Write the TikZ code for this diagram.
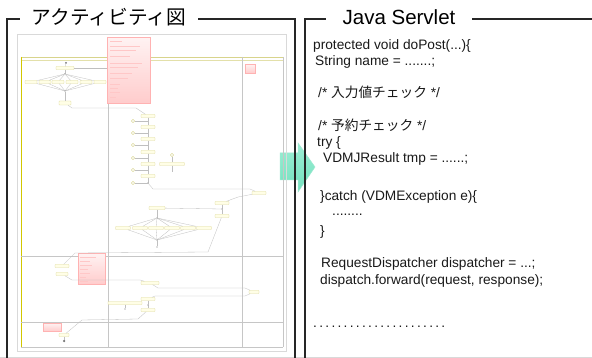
\documentclass[tikz,border=0pt]{standalone}
\usepackage{fontspec}
\setmainfont{Liberation Sans}
\newfontfamily\jfont{Noto Sans CJK JP}
\definecolor{mint}{HTML}{74E0BE}
\definecolor{mintlight}{HTML}{9CEED4}

\begin{document}
\begin{tikzpicture}[x=1pt, y=-1pt,
	frame/.style={line width=1.6pt, black!85},
	heading/.style={fill=white, inner ysep=1pt, font=\fontsize{20.5}{24}\selectfont},
	code/.style={anchor=base west, inner sep=0pt, font=\fontsize{13.7}{16}\selectfont, text=black!90},
	lane/.style={draw=gray!45, line width=0.5pt},
	act/.style={draw=olive!30, fill=yellow!10, rectangle, rounded corners=0.6pt, minimum width=14pt, minimum height=3pt, inner sep=0pt},
	pin/.style={draw=olive!40, circle, minimum size=3.2pt, inner sep=0pt},
	dot/.style={fill=black!55, circle, minimum size=2pt, inner sep=0pt},
	note/.style={draw=red!30, top color=red!5, bottom color=red!20, rectangle, inner sep=0pt, anchor=north west},
	flow/.style={draw=gray!50, line width=0.3pt}]
	\useasboundingbox (0,0) rectangle (592,358);
	\fill[white] (0,0) rectangle (592,358);

	\shade[top color=mintlight, bottom color=mint, draw=mint!70!white, line width=0.5pt]
		(280,153) -- (298,153) -- (298,143) -- (315,167) -- (298,192) -- (298,180) -- (280,180) -- cycle;

	\draw[gray!30] (17,34) rectangle (286,351);
	\draw[olive!35] (21,57) -- (283,57);
	\draw[olive!25] (21,60) -- (283,60);
	\draw[yellow!60!olive, line width=0.9pt] (21,57) -- (21,347);
	\draw[lane] (283,57) -- (283,347);
	\draw[lane] (108,57) -- (108,347);
	\draw[lane] (242,57) -- (242,347);
	\draw[lane] (21,256) -- (283,256);
	\draw[lane] (21,322) -- (283,322);
	\draw[lane] (21,347) -- (283,347);

	\node[note, minimum width=43pt, minimum height=66pt] (n1) at (107,37) {};
	\node[note, minimum width=27pt, minimum height=31pt] (n2) at (78,253) {};
	\node[note, minimum width=18pt, minimum height=8pt] (n3) at (43,323) {};
	\node[note, minimum width=10pt, minimum height=9pt] (n4) at (245,64) {};
	\foreach \y/\l in {41/12, 46/30, 50/26, 56/20, 63/32, 67/28, 73/22, 78/18, 84/10, 88/8, 92/10, 97/6}
		\draw[red!22, line width=0.5pt] (110,\y) -- ++(\l,0);
	\foreach \y/\l in {257/16, 261/10, 265/12, 269/8, 273/10, 277/6, 281/8}
		\draw[red!22, line width=0.5pt] (80,\y) -- ++(\l,0);

	\node[dot] (s0) at (66,63) {};
	\node[act, minimum width=18pt] (a1) at (65,68) {};
	\node[dot, minimum size=1.5pt] (f1) at (65,74) {};
	\foreach \i/\x in {1/31, 2/45, 3/58, 4/72, 5/86, 6/100}
		\node[act, minimum width=12pt] (r\i) at (\x,82) {};
	\node[dot, minimum size=1.5pt] (f2) at (65,91) {};
	\node[act, minimum width=12pt, minimum height=4pt] (a2) at (65,103) {};

	\node[act] (c1) at (148,116) {};
	\node[act] (c2) at (148,127) {};
	\node[act] (c3) at (148,139) {};
	\node[act] (c4) at (148,152) {};
	\node[act] (c5) at (148,164) {};
	\node[act] (c6) at (148,176) {};
	\node[dot, minimum size=1.5pt] (d6) at (148,183) {};
	\foreach \i/\y in {1/121, 2/133, 3/145, 4/158, 5/170, 6/183}
		\node[pin] (p\i) at (133,\y) {};
	\node[pin] (q1) at (172,155) {};
	\node[act, minimum width=25pt] (q2) at (172,164) {};
	\coordinate (q3) at (172,172);

	\node[act] (k1) at (259,193) {};
	\node[act] (k2) at (222,203) {};
	\node[dot, minimum size=1.5pt] (kd) at (222,209) {};
	\node[act] (k3) at (222,216) {};

	\node[act, minimum width=16pt] (m1) at (157,208) {};
	\node[dot, minimum size=1.5pt] (fm1) at (157,218) {};
	\foreach \i/\x in {1/123, 2/140, 3/156, 4/172, 5/188, 6/204}
		\node[act, minimum width=15pt] (w\i) at (\x,228) {};
	\node[dot, minimum size=1.5pt] (fm2) at (157,240) {};
	\node[dot, minimum size=1.2pt] (m2) at (157,247) {};

	\node[act] (b1) at (62,266) {};
	\node[act, minimum width=12pt] (b2) at (62,274) {};
	\node[act, minimum width=18pt] (e1) at (150,283) {};
	\node[act, minimum width=10pt] (e2) at (254,292) {};
	\node[act] (e3) at (148,299) {};
	\node[dot, minimum size=1.5pt] (ed) at (148,305) {};
	\node[act] (e4) at (148,310) {};
	\node[act, minimum width=34pt] (g1) at (125,303) {};
	\node[dot, minimum size=1.2pt] (g2) at (125,309) {};
	\node[act, minimum width=10pt] (h1) at (64,335) {};
	\node[dot, minimum size=2.5pt] (h2) at (64,341) {};

	\foreach \from/\to in {
		s0/a1, a1/f1, f2/a2,
		c1/c2, c2/c3, c3/c4, c4/c5, c5/c6, c6/d6,
		q1/q2, q2/q3,
		k2/kd, kd/k3, m1/kd, m1/fm1, fm2/m2,
		e3/ed, ed/e4, g1/g2, h1/h2}
	\draw[flow] (\from) -- (\to);
	\foreach \i in {1,...,6} {
		\draw[flow] (f1) -- (r\i);
		\draw[flow] (r\i) -- (f2);
		\draw[flow] (fm1) -- (w\i);
		\draw[flow] (w\i) -- (fm2);
		\draw[flow] (p\i) -- (p\i -| c1);
	}
	\draw[flow] (a1) -- (a1 -| n1.west);
	\draw[flow] (a2) -- (72,108) -- (136,108) -- (c1);
	\draw[flow] (d6) -- (153,189) -- (250,189) -- (k1);
	\draw[flow] (k1) -- (238,197) -- (k2);
	\draw[flow] (k3) -- (208,252) -- (75,253) -- (b1);
	\draw[flow] (b2) -- (72,280) -- (140,280) -- (e1);
	\draw[flow] (e1) -- (158,288) -- (245,288) -- (e2);
	\draw[flow] (e2) -- (245,296) -- (155,296) -- (e3);
	\draw[flow] (e4) -- (138,319) -- (82,320) -- (h1);

	\draw[gray!30] (0,357) -- (592,357);
	\draw[frame] (7,358) -- (7,19) -- (295,19) -- (295,358);
	\draw[frame] (305,358) -- (305,19) -- (592,19);
	\node[heading, inner xsep=12pt, font=\jfont\fontsize{19.7}{24}\selectfont] (title1) at (109,17) {アクティビティ図};
	\node[heading, inner xsep=17pt] (title2) at (399,17) {Java Servlet};

	\node[code] (t1) at (313,50) {protected void doPost(...)\{};
	\node[code] (t2) at (315,66) {String name = .......;};
	\node[code] (t3) at (318,98) {/* {\jfont 入力値チェック} */};
	\node[code] (t4) at (318,131) {/* {\jfont 予約チェック} */};
	\node[code] (t5) at (317,147) {try \{};
	\node[code] (t6) at (323,163) {VDMJResult tmp = ......;};
	\node[code] (t7) at (320,201) {\}catch (VDMException e)\{};
	\node[code] (t8) at (332,216) {........};
	\node[code] (t9) at (320,236) {\}};
	\node[code] (t10) at (321,268) {RequestDispatcher dispatcher = ...;};
	\node[code] (t11) at (320,285) {dispatch.forward(request, response);};
	\node[code] (t12) at (313,327) {\foreach \k in {1,...,22}{.\kern2.3pt}};
\end{tikzpicture}
\end{document}
